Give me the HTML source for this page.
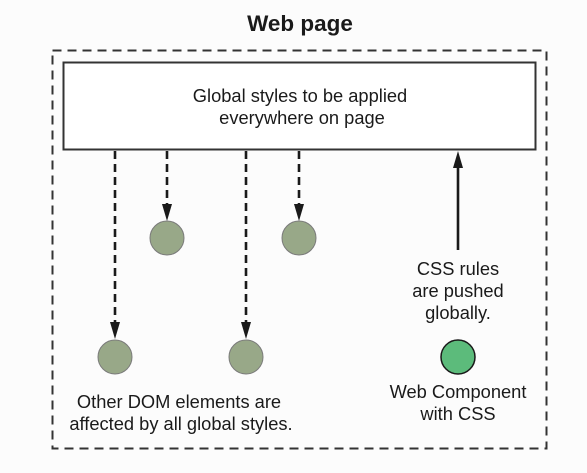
<!DOCTYPE html>
<html><head><style>
html,body{margin:0;padding:0;background:#fcfcfc;}
svg{display:block;}
text{font-family:"Liberation Sans",Arial,sans-serif;fill:#1a1a1a;}
</style></head><body>
<svg width="587" height="473" viewBox="0 0 587 473">
<rect width="587" height="473" fill="#fcfcfc"/>
<text x="300" y="31" font-size="22.5" font-weight="bold" text-anchor="middle">Web page</text>
<rect x="52.5" y="50.5" width="494" height="398" fill="none" stroke="#333" stroke-width="2" stroke-dasharray="9,6"/>
<rect x="63.5" y="62.5" width="472" height="87" fill="#fff" stroke="#333" stroke-width="2"/>
<text x="300" y="102" font-size="18.3" text-anchor="middle">Global styles to be applied</text>
<text x="302" y="124" font-size="18.3" text-anchor="middle">everywhere on page</text>
<g stroke="#1a1a1a" stroke-width="2.6" stroke-dasharray="8,5">
<line x1="115" y1="151" x2="115" y2="324"/>
<line x1="167" y1="151" x2="167" y2="206"/>
<line x1="246" y1="151" x2="246" y2="324"/>
<line x1="299" y1="151" x2="299" y2="206"/>
</g>
<g fill="#1a1a1a">
<polygon points="110,322 120,322 115,339"/>
<polygon points="162,204 172,204 167,221"/>
<polygon points="241,322 251,322 246,339"/>
<polygon points="294,204 304,204 299,221"/>
<polygon points="453,168 463,168 458,151"/>
</g>
<line x1="458" y1="166" x2="458" y2="250" stroke="#1a1a1a" stroke-width="2.6"/>
<g fill="#98a888" stroke="#7a7a7a" stroke-width="1">
<circle cx="167" cy="238" r="17"/>
<circle cx="299" cy="238" r="17"/>
<circle cx="115" cy="357" r="17"/>
<circle cx="246" cy="357" r="17"/>
</g>
<circle cx="458" cy="357" r="17" fill="#5cbb7b" stroke="#1a1a1a" stroke-width="1.5"/>
<g font-size="18.3" text-anchor="middle">
<text x="458" y="275">CSS rules</text>
<text x="458" y="297">are pushed</text>
<text x="458" y="319">globally.</text>
<text x="458" y="398">Web Component</text>
<text x="458" y="420">with CSS</text>
<text x="179" y="408">Other DOM elements are</text>
<text x="181" y="430">affected by all global styles.</text>
</g>
</svg>
</body></html>
